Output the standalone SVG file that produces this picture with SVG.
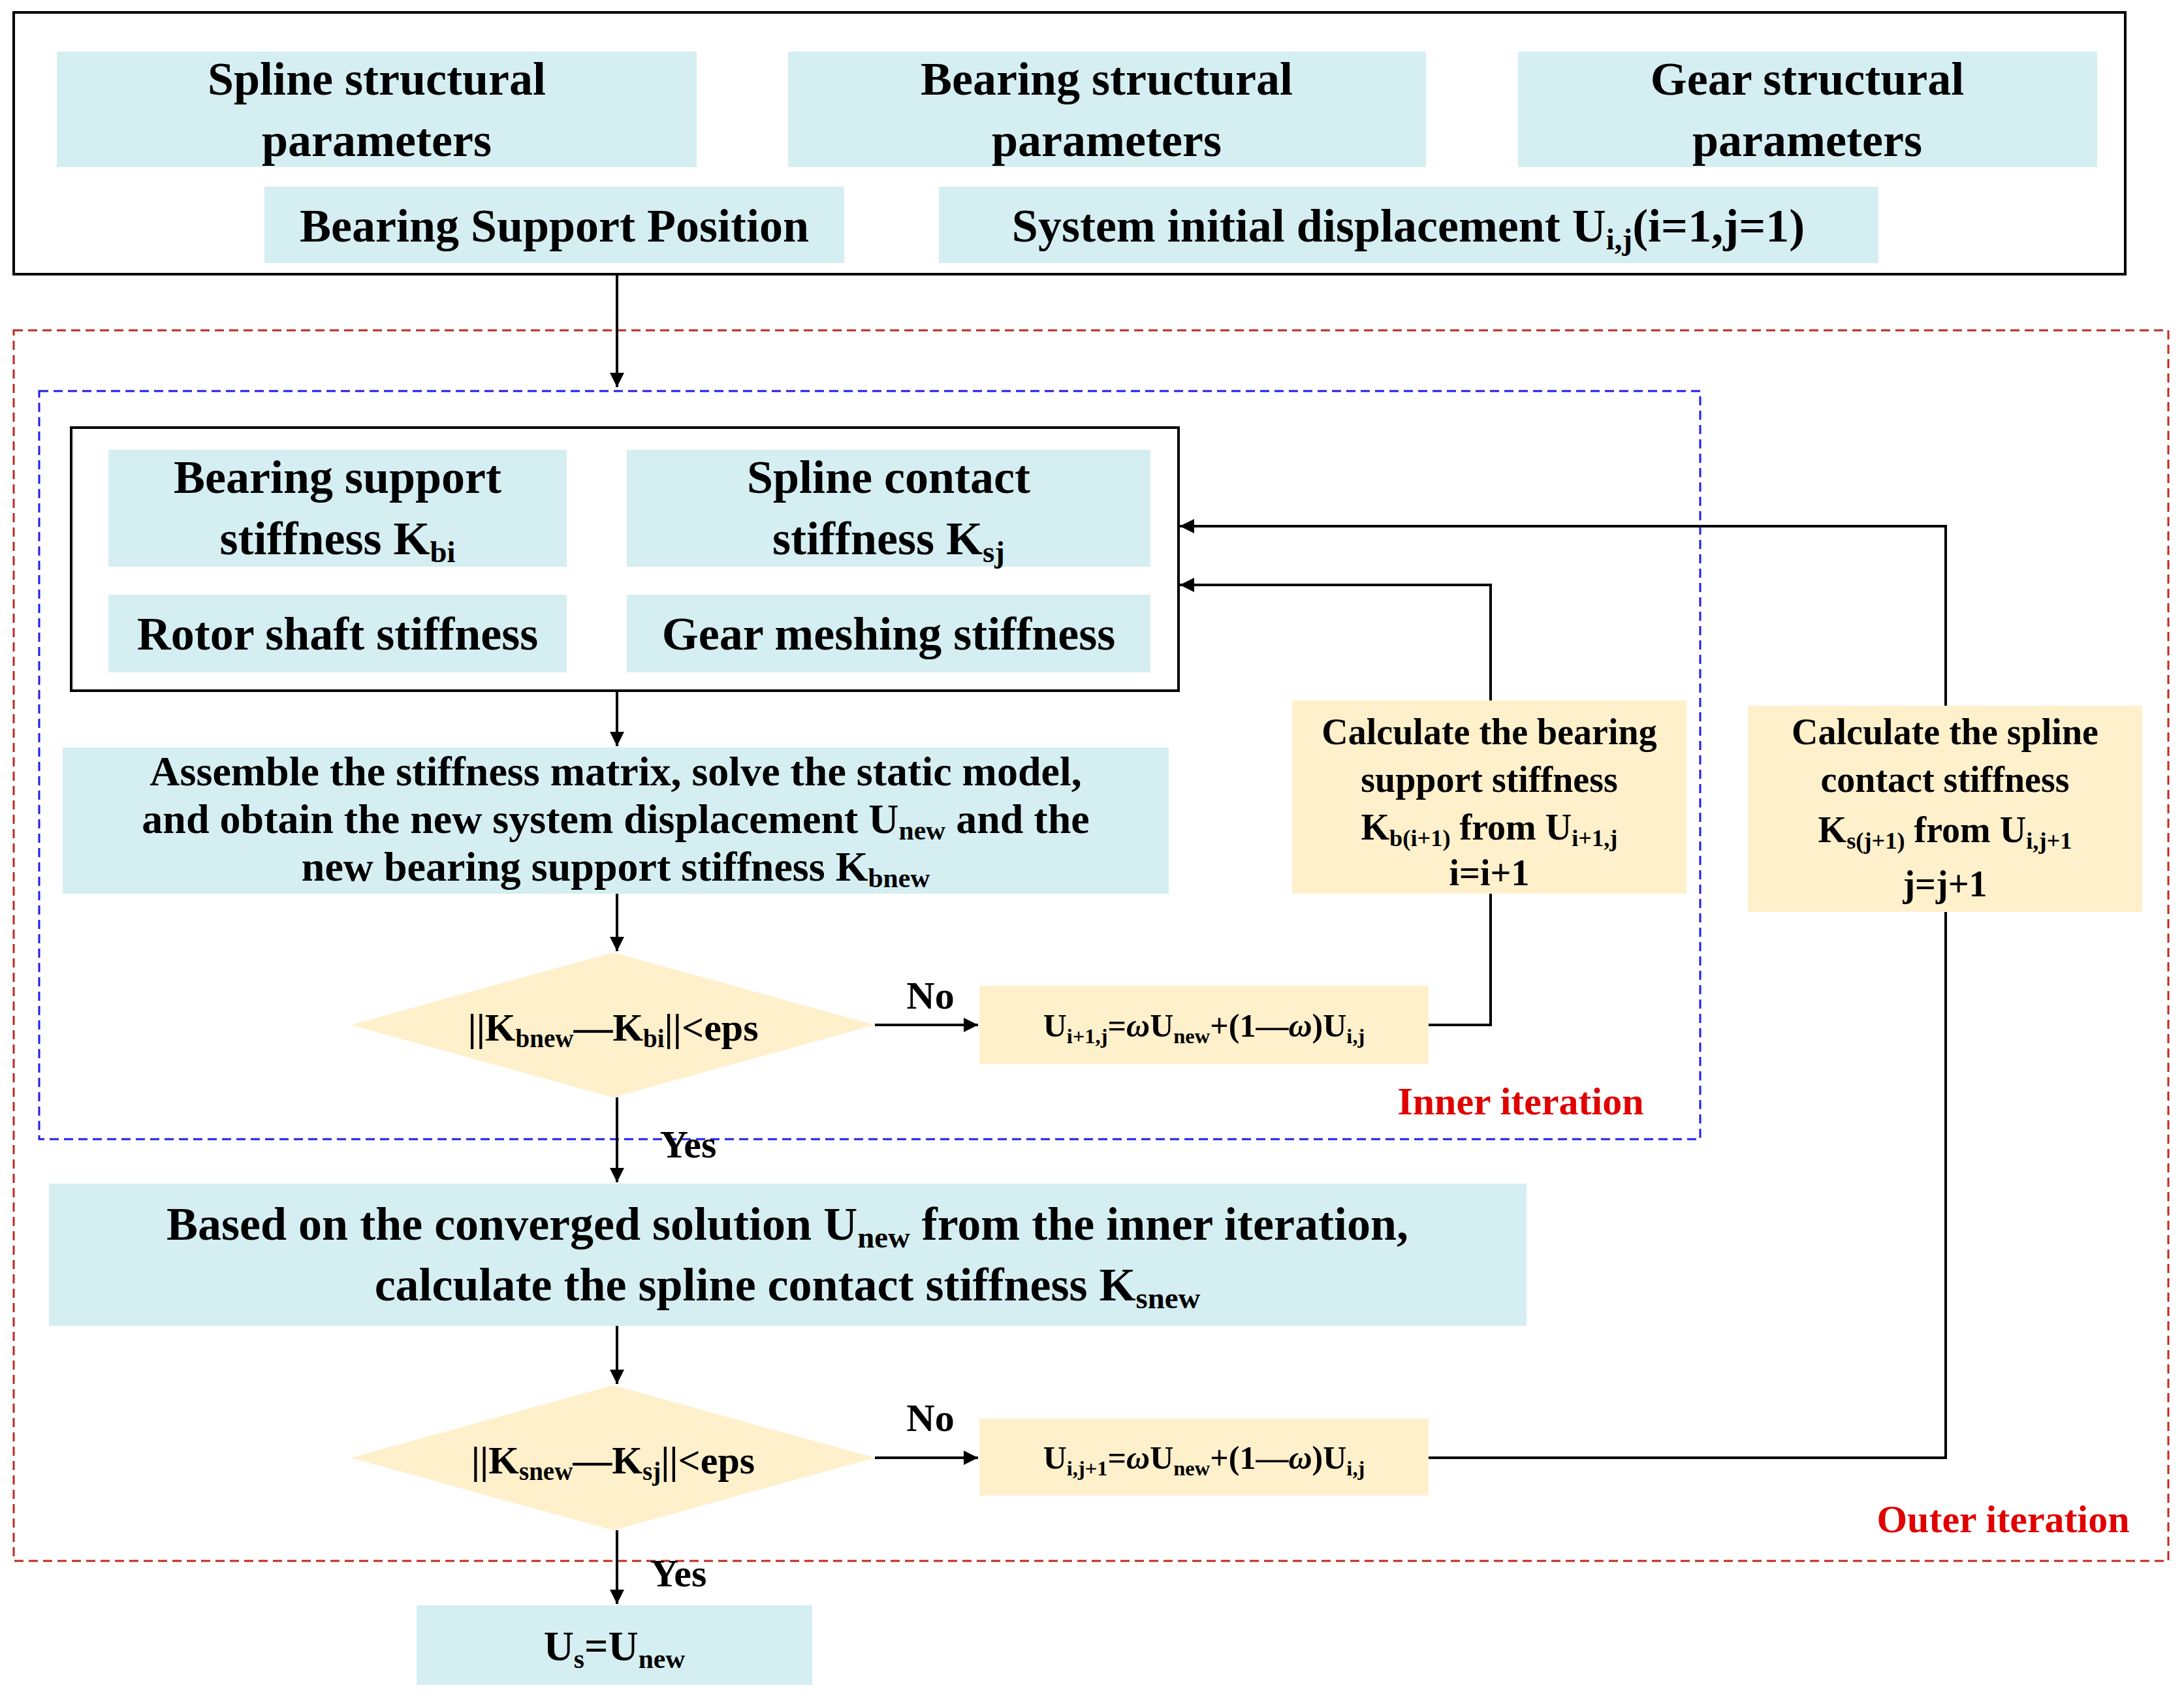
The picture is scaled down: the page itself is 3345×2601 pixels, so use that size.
<svg xmlns="http://www.w3.org/2000/svg" width="3345" height="2601" viewBox="0 0 3345 2601">
<style>
text{font-family:"Liberation Serif","Times New Roman",serif;font-weight:bold;fill:#000;text-anchor:middle}
.b{fill:#D5EEF2}
.y{fill:#FFF0CC}
.l{font-size:72px}
.m{font-size:56px}
.s{font-size:50px}
.sub{font-size:0.65em}
.ln{fill:none;stroke:#000;stroke-width:4}
.red{fill:#E00000;font-size:60px}
</style>
<defs><marker id="a" markerWidth="10" markerHeight="10" refX="9" refY="5" orient="auto" markerUnits="userSpaceOnUse" viewBox="0 0 10 10"><path d="M0,0L10,5L0,10z" fill="#000" transform="scale(1)"/></marker>
<marker id="ah" viewBox="0 0 10 10" refX="10" refY="5" markerWidth="22" markerHeight="22" markerUnits="userSpaceOnUse" orient="auto"><path d="M0,0L10,5L0,10z" fill="#000"/></marker></defs>
<rect x="21" y="19" width="3234" height="401" fill="#fff" stroke="#000" stroke-width="4"/>
<rect x="21" y="506" width="3300" height="1885" fill="none" stroke="#C0281E" stroke-width="3" stroke-dasharray="14,8"/>
<rect x="60" y="599" width="2544" height="1146" fill="none" stroke="#1E1EE6" stroke-width="3" stroke-dasharray="14,8"/>
<rect x="109" y="655" width="1696" height="403" fill="none" stroke="#000" stroke-width="4"/>
<g id="n1"><rect class="b" x="87" y="79" width="980" height="177"/><text class="l" x="577" y="145">Spline structural</text><text class="l" x="577" y="239">parameters</text></g>
<g id="n2"><rect class="b" x="1207" y="79" width="977" height="177"/><text class="l" x="1695" y="145">Bearing structural</text><text class="l" x="1695" y="239">parameters</text></g>
<g id="n3"><rect class="b" x="2325" y="79" width="887" height="177"/><text class="l" x="2768" y="145">Gear structural</text><text class="l" x="2768" y="239">parameters</text></g>
<g id="n4"><rect class="b" x="405" y="286" width="888" height="117"/><text class="l" x="849" y="370">Bearing Support Position</text></g>
<g id="n5"><rect class="b" x="1438" y="286" width="1439" height="117"/><text class="l" x="2157" y="370">System initial displacement U<tspan class="sub" dy="12">i,j</tspan><tspan dy="-12">(i=1,j=1)</tspan></text></g>
<g id="n6"><rect class="b" x="166" y="689" width="702" height="179"/><text class="l" x="517" y="755">Bearing support</text><text class="l" x="517" y="849">stiffness K<tspan class="sub" dy="12">bi</tspan></text></g>
<g id="n7"><rect class="b" x="960" y="689" width="802" height="179"/><text class="l" x="1361" y="755">Spline contact</text><text class="l" x="1361" y="849">stiffness K<tspan class="sub" dy="12">sj</tspan></text></g>
<g id="n8"><rect class="b" x="166" y="911" width="702" height="119"/><text class="l" x="517" y="995">Rotor shaft stiffness</text></g>
<g id="n9"><rect class="b" x="960" y="911" width="802" height="119"/><text class="l" x="1361" y="995">Gear meshing stiffness</text></g>
<g id="n10"><rect class="b" x="96" y="1145" width="1694" height="224"/><text class="m" x="943" y="1203" style="font-size:64px">Assemble the stiffness matrix, solve the static model,</text><text class="m" x="943" y="1276" style="font-size:64px">and obtain the new system displacement U<tspan class="sub" dy="10">new</tspan><tspan dy="-10"> and the</tspan></text><text class="m" x="943" y="1349" style="font-size:64px">new bearing support stiffness K<tspan class="sub" dy="10">bnew</tspan></text></g>
<g id="n11"><path class="y" d="M537,1570L939,1459L1340,1570L939,1681z"/><text class="l" x="939" y="1594" style="font-size:60px">||K<tspan class="sub" dy="10">bnew</tspan><tspan dy="-10">—K</tspan><tspan class="sub" dy="10">bi</tspan><tspan dy="-10">||&lt;eps</tspan></text></g>
<g id="n12"><rect class="y" x="1500" y="1510" width="688" height="120"/><text class="s" x="1844" y="1588">U<tspan class="sub" dy="10">i+1,j</tspan><tspan dy="-10">=</tspan><tspan font-style="italic">ω</tspan>U<tspan class="sub" dy="10">new</tspan><tspan dy="-10">+(1—</tspan><tspan font-style="italic">ω</tspan>)U<tspan class="sub" dy="10">i,j</tspan></text></g>
<g id="n13"><rect class="y" x="1979" y="1073" width="604" height="296"/><text class="m" x="2281" y="1140">Calculate the bearing</text><text class="m" x="2281" y="1213">support stiffness</text><text class="m" x="2281" y="1286">K<tspan class="sub" dy="10">b(i+1)</tspan><tspan dy="-10"> from U</tspan><tspan class="sub" dy="10">i+1,j</tspan></text><text class="m" x="2281" y="1356">i=i+1</text></g>
<g id="n14"><rect class="y" x="2677" y="1081" width="604" height="316"/><text class="m" x="2979" y="1140">Calculate the spline</text><text class="m" x="2979" y="1213">contact stiffness</text><text class="m" x="2979" y="1290">K<tspan class="sub" dy="10">s(j+1)</tspan><tspan dy="-10"> from U</tspan><tspan class="sub" dy="10">i,j+1</tspan></text><text class="m" x="2979" y="1373">j=j+1</text></g>
<g id="n15"><rect class="b" x="75" y="1813" width="2263" height="218"/><text class="l" x="1206" y="1899">Based on the converged solution U<tspan class="sub" dy="12">new</tspan><tspan dy="-12"> from the inner iteration,</tspan></text><text class="l" x="1206" y="1992">calculate the spline contact stiffness K<tspan class="sub" dy="12">snew</tspan></text></g>
<g id="n16"><path class="y" d="M537,2233L939,2122L1340,2233L939,2344z"/><text class="l" x="939" y="2257" style="font-size:60px">||K<tspan class="sub" dy="10">snew</tspan><tspan dy="-10">—K</tspan><tspan class="sub" dy="10">sj</tspan><tspan dy="-10">||&lt;eps</tspan></text></g>
<g id="n17"><rect class="y" x="1500" y="2173" width="688" height="118"/><text class="s" x="1844" y="2250">U<tspan class="sub" dy="10">i,j+1</tspan><tspan dy="-10">=</tspan><tspan font-style="italic">ω</tspan>U<tspan class="sub" dy="10">new</tspan><tspan dy="-10">+(1—</tspan><tspan font-style="italic">ω</tspan>)U<tspan class="sub" dy="10">i,j</tspan></text></g>
<g id="n18"><rect class="b" x="638" y="2459" width="606" height="122"/><text class="l" x="941" y="2543" style="font-size:64px">U<tspan class="sub" dy="12">s</tspan><tspan dy="-12">=U</tspan><tspan class="sub" dy="12">new</tspan></text></g>
<g id="labels">
<text class="red" x="2329" y="1707">Inner iteration</text>
<text class="red" x="3068" y="2347">Outer iteration</text>
<text class="m" x="1425" y="1545" style="font-size:60px">No</text>
<text class="m" x="1425" y="2192" style="font-size:60px">No</text>
<text class="m" x="1054" y="1773" style="font-size:60px">Yes</text>
<text class="m" x="1039" y="2430" style="font-size:60px">Yes</text>
</g>
<g id="connectors">
<path class="ln" d="M945,420V593" marker-end="url(#ah)"/>
<path class="ln" d="M945,1058V1143" marker-end="url(#ah)"/>
<path class="ln" d="M945,1369V1457" marker-end="url(#ah)"/>
<path class="ln" d="M1340,1570H1498" marker-end="url(#ah)"/>
<path class="ln" d="M2188,1570H2283V1369"/>
<path class="ln" d="M2283,1073V896H1807" marker-end="url(#ah)"/>
<path class="ln" d="M945,1681V1811" marker-end="url(#ah)"/>
<path class="ln" d="M945,2031V2120" marker-end="url(#ah)"/>
<path class="ln" d="M1340,2233H1498" marker-end="url(#ah)"/>
<path class="ln" d="M2188,2233H2980V1397"/>
<path class="ln" d="M2980,1081V806H1807" marker-end="url(#ah)"/>
<path class="ln" d="M945,2344V2457" marker-end="url(#ah)"/>
</g>
</svg>
